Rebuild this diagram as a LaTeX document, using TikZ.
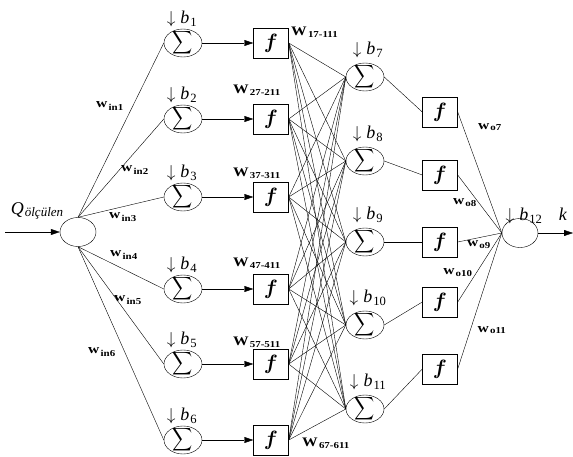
\documentclass[tikz,border=0pt]{standalone}
\usepackage{amsmath}
\usepackage{graphicx}
\usepackage{fontspec}
\setmainfont{Liberation Serif}
\usepackage{tikz}
\usetikzlibrary{arrows.meta,
shapes.geometric
}
\tikzset{>={Triangle[length=9pt,width=6pt]}}
\tikzset{
  sumnode/.style={draw,ellipse,minimum width=38pt,minimum height=28pt,inner sep=0pt,
    label={[inner sep=0pt]center:\sumsym}},
  outnode/.style={draw,ellipse,minimum width=36pt,minimum height=29pt,inner sep=0pt},
  fbox/.style={draw,minimum width=35pt,minimum height=30pt,inner sep=0pt},
  wlab/.style={font=\fontsize{13}{13}\selectfont\bfseries,inner sep=0pt},
  winlab/.style={font=\fontsize{13}{13}\selectfont\bfseries,inner sep=0pt},
  blab/.style={font=\fontsize{18}{18}\selectfont,inner sep=0pt}
}
\newcommand{\sumsym}{\scalebox{1.4}[1.6]{$\displaystyle\sum$}}
\newcommand{\fsym}{\fontsize{20}{20}\selectfont$\boldsymbol{f}$}
\newcommand{\subs}[1]{\kern1pt\textsubscript{#1}}
\newcommand{\bias}[1]{$\downarrow$\hspace{5pt}\textit{b}\subs{#1}}
\newcommand{\wide}[1]{\scalebox{1.2}[1]{#1}}

\begin{document}
\begin{tikzpicture}[x=1pt,y=-1pt]
        \useasboundingbox (0,0) rectangle (573,457);
        \node[outnode] (in) at (78,232) {};
        \coordinate (qin) at (5,232);
        \draw[->] (qin) -- (in.west);
        \node[inner sep=0pt,font=\fontsize{18}{18}\selectfont] (q) at (37,211) {\textit{Q}\kern1pt\raisebox{-2pt}{\fontsize{13}{13}\selectfont\textit{ölçülen}}};
        \foreach \i/\y in {1/43,2/119,3/197,4/289,5/364,6/440}{
            \node[sumnode] (s\i) at (183,\y) {};
            \node[fbox] (f\i) at (271,\y) {\fsym};
            \node[blab] (b\i) at (182,\y-24) {\bias{\i}};
            \draw[->] (s\i.east) -- (f\i.west);
        }
        \foreach \i in {1,2,3} \draw (in.north) -- (s\i.west);
        \foreach \i in {4,5,6} \draw (in.south) -- (s\i.west);
        \foreach \j/\y/\z in {7/77/112,8/161/175,9/242/242,10/325/302,11/409/369}{
            \node[sumnode] (g\j) at (365,\y) {};
            \node[fbox] (h\j) at (440,\z) {\fsym};
            \node[blab] (b\j) at (368,\y-27) {\bias{\j}};
            \draw (g\j.east) -- (h\j.west);
        }
        \foreach \i in {1,...,6} \foreach \j in {7,...,11} \draw (f\i.east) -- (g\j.west);
        \node[outnode] (out) at (520,233) {};
        \foreach \j in {7,...,11} \draw (h\j.east) -- (out.west);
        \coordinate (kout) at (573,233);
        \draw[->] (out.east) -- (kout);
        \node[blab] (b12) at (524,216) {\bias{12}};
        \node[blab] (k) at (563,214) {\textit{k}};
        \node[wlab,anchor=west] (w17) at (291,32) {\wide{W\subs{17-111}}};
        \node[wlab] (w27) at (257,90) {\wide{W\subs{27-211}}};
        \node[wlab] (w37) at (257,173) {\wide{W\subs{37-311}}};
        \node[wlab] (w47) at (257,263) {\wide{W\subs{47-411}}};
        \node[wlab] (w57) at (257,342) {\wide{W\subs{57-511}}};
        \node[wlab,anchor=west] (w67) at (302,443) {\wide{W\subs{67-611}}};
        \node[winlab] (win1) at (110,106) {\wide{w\subs{in1}}};
        \node[winlab] (win2) at (135,170) {\wide{w\subs{in2}}};
        \node[winlab] (win3) at (123,217) {\wide{w\subs{in3}}};
        \node[winlab] (win4) at (124,255) {\wide{w\subs{in4}}};
        \node[winlab] (win5) at (128,300) {\wide{w\subs{in5}}};
        \node[winlab] (win6) at (102,352) {\wide{w\subs{in6}}};
        \node[winlab] (wo7) at (490,127) {\wide{w\subs{o7}}};
        \node[winlab] (wo8) at (465,203) {\wide{w\subs{o8}}};
        \node[winlab] (wo9) at (479,245) {\wide{w\subs{o9}}};
        \node[winlab] (wo10) at (458,273) {\wide{w\subs{o10}}};
        \node[winlab] (wo11) at (492,330) {\wide{w\subs{o11}}};
    \end{tikzpicture}
\end{document}
